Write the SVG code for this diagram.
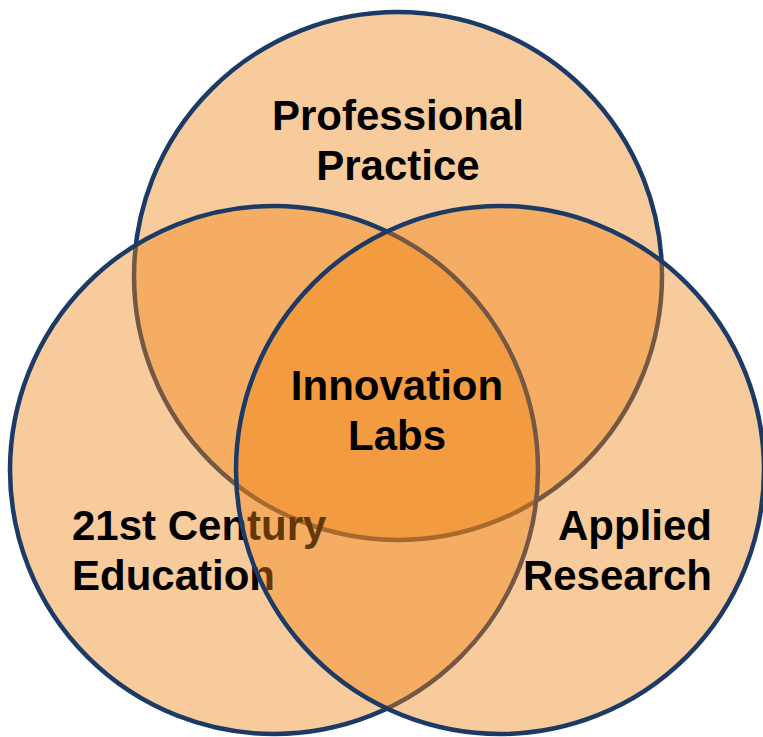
<svg xmlns="http://www.w3.org/2000/svg" width="763" height="737" viewBox="0 0 763 737">
<style>
.c{fill:#ee8312;fill-opacity:0.42;stroke:#1c3a66;stroke-width:4.5}
.t{font-family:"Liberation Sans",Arial,sans-serif;font-weight:bold;font-size:42px;fill:#000}
</style>
<rect width="763" height="737" fill="#fff"/>
<g id="professional-practice">
<circle class="c" cx="398" cy="276" r="264"/>
<text class="t" x="398" y="130" text-anchor="middle">Professional</text>
<text class="t" x="398" y="180" text-anchor="middle">Practice</text>
</g>
<g id="21st-century-education">
<circle class="c" cx="274" cy="470" r="264"/>
<text class="t" x="72" y="540">21st Century</text>
<text class="t" x="72" y="590">Education</text>
</g>
<g id="applied-research">
<circle class="c" cx="500" cy="470" r="264"/>
<text class="t" x="712" y="540" text-anchor="end">Applied</text>
<text class="t" x="712" y="590" text-anchor="end">Research</text>
</g>
<g id="innovation-labs">
<text class="t" x="397" y="400" text-anchor="middle">Innovation</text>
<text class="t" x="397" y="450" text-anchor="middle">Labs</text>
</g>
<g id="connectors"/>
</svg>
